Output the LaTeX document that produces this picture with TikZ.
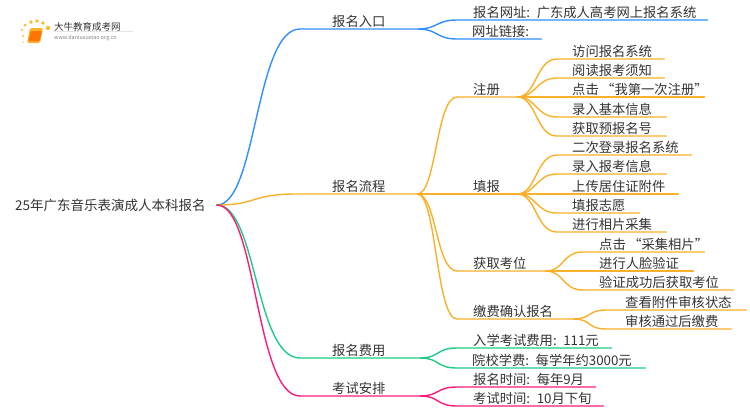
\documentclass[tikz,border=0pt]{standalone}
\usepackage{fontspec}
\setmainfont{Noto Sans CJK SC}
\usetikzlibrary{positioning}
\definecolor{branchblue}{RGB}{47,143,255}
\definecolor{branchorange}{RGB}{249,176,42}
\definecolor{branchgreen}{RGB}{31,203,133}
\definecolor{branchpink}{RGB}{255,26,122}
\definecolor{mmtext}{RGB}{51,51,51}
\tikzset{
  mmlabel/.style={font=\fontsize{13.3}{16}\selectfont,text=mmtext,anchor=south west,
    inner xsep=0pt,inner ysep=0pt,text height=11pt,text depth=2.6pt,align=left},
  mmline/.style={line width=1.4pt,line cap=round},
  logodot/.style={fill=branchorange!85!yellow,draw=none,circle,inner sep=0pt}
}
\begin{document}
\begin{tikzpicture}[x=1pt,y=-1pt]
\useasboundingbox (0,0) rectangle (750,410);

% Root
\node[font=\fontsize{13.5}{16}\selectfont,text=mmtext,anchor=west,inner xsep=11pt,inner ysep=0pt]
  (root) at (4,205) {25年广东音乐表演成人本科报名};

% Helper macro: \mmnode{name}{line start}{text start}{line end}{line y}{text}
\newcommand{\mmnode}[6]{%
  \pgfmathsetmacro{\mmw}{#4-#2}%
  \pgfmathsetmacro{\mmpad}{#3-#2}%
  \node[mmlabel,text width=\mmw pt] (#1) at (#2,#5) {\hspace*{\mmpad pt}\mbox{#6}};
}

% Topics
\mmnode{entry}{300}{332}{418}{29}{报名入口}
\mmnode{flow}{296}{332}{417}{194}{报名流程}
\mmnode{fee}{300}{332}{420}{358}{报名费用}
\mmnode{exam}{300}{332}{420}{396}{考试安排}

% Entry children
\mmnode{site}{457}{473}{707}{20}{报名网址: 广东成人高考网上报名系统}
\mmnode{link}{457}{472}{541}{39}{网址链接:}

% Flow children
\mmnode{reg}{457}{473}{517}{97}{注册}
\mmnode{fill}{457}{473}{517}{194}{填报}
\mmnode{seat}{457}{473}{545}{271}{获取考位}
\mmnode{pay}{457}{473}{573}{319}{缴费确认报名}

% Row: reg
\mmnode{reg1}{557}{572}{664}{59}{访问报名系统}
\mmnode{reg2}{557}{572}{664}{78}{阅读报考须知}
\mmnode{reg3}{557}{572}{704}{97}{点击\hspace{2.5pt}“我第一次注册”}
\mmnode{reg4}{557}{572}{666}{117}{录入基本信息}
\mmnode{reg5}{557}{572}{666}{136}{获取预报名号}

% Row: fill
\mmnode{fill1}{557}{572}{691}{155}{二次登录报名系统}
\mmnode{fill2}{557}{572}{666}{174}{录入报考信息}
\mmnode{fill3}{557}{572}{678}{194}{上传居住证附件}
\mmnode{fill4}{557}{572}{639}{213}{填报志愿}
\mmnode{fill5}{557}{572}{666}{232}{进行相片采集}

% Row: seat
\mmnode{seat1}{583}{599}{704}{252}{点击\hspace{2.5pt}“采集相片”}
\mmnode{seat2}{583}{599}{693}{271}{进行人脸验证}
\mmnode{seat3}{583}{599}{733}{290}{验证成功后获取考位}

% Row: pay
\mmnode{pay1}{607}{625}{746}{310}{查看附件审核状态}
\mmnode{pay2}{607}{625}{731}{329}{审核通过后缴费}

% Row: fee, exam
\mmnode{fee1}{457}{473}{611}{348}{入学考试费用: 111元}
\mmnode{fee2}{457}{472}{645}{368}{院校学费: 每学年约3000元}
\mmnode{exam1}{457}{473}{595}{387}{报名时间: 每年9月}
\mmnode{exam2}{457}{473}{603}{406}{考试时间: 10月下旬}

% Connectors
\foreach \to/\col in {entry/branchblue,flow/branchorange,
  fee/branchgreen,exam/branchpink} {
  \draw[mmline,\col] (root.east) to[out=0,in=180,out distance=40pt,in distance=45pt]
    (\to.south west) -- (\to.south east);
}
\foreach \from/\to/\col in {entry/site/branchblue,entry/link/branchblue,
  flow/reg/branchorange,flow/fill/branchorange,flow/seat/branchorange,flow/pay/branchorange,
  fee/fee1/branchgreen,fee/fee2/branchgreen,exam/exam1/branchpink,exam/exam2/branchpink,
  reg/reg1/branchorange,reg/reg2/branchorange,reg/reg3/branchorange,reg/reg4/branchorange,reg/reg5/branchorange,
  fill/fill1/branchorange,fill/fill2/branchorange,fill/fill3/branchorange,fill/fill4/branchorange,fill/fill5/branchorange,
  seat/seat1/branchorange,seat/seat2/branchorange,seat/seat3/branchorange,
  pay/pay1/branchorange,pay/pay2/branchorange} {
  \draw[mmline,\col] (\from.south east) to[out=0,in=180,out distance=19pt,in distance=21pt]
    (\to.south west) -- (\to.south east);
}

% Logo
\foreach \i/\x/\y/\r in {1/23/36/2,2/22/30/2.4,3/25/25/3,4/31/22/3.6,5/37/21/3.8,6/43/23/3.8,7/48/28/4.2,8/23/42/1.5} {
  \node[logodot,minimum size=\r pt] (dot\i) at (\x,\y) {};
}
\fill[branchorange,rounded corners=1.5pt] (30,28) -- (43,28) -- (40,43) -- (27,43) -- cycle;
\fill[orange!90!red,rounded corners=1pt] (31,31) -- (42,31) -- (39.5,41) -- (28.5,41) -- cycle;
\node[font=\fontsize{9.5}{11}\selectfont,text=mmtext,anchor=west,inner sep=0pt] (logotitle) at (54,27) {大牛教育成考网};
\node[font=\fontsize{5.4}{7}\selectfont,text=gray,anchor=west,inner sep=0pt] (logourl) at (54,38.5) {www.daniuxueiao.org.cn};
\draw[gray!20,line width=0.4pt] (logotitle.south west) -- ++(79,0);
\end{tikzpicture}
\end{document}
